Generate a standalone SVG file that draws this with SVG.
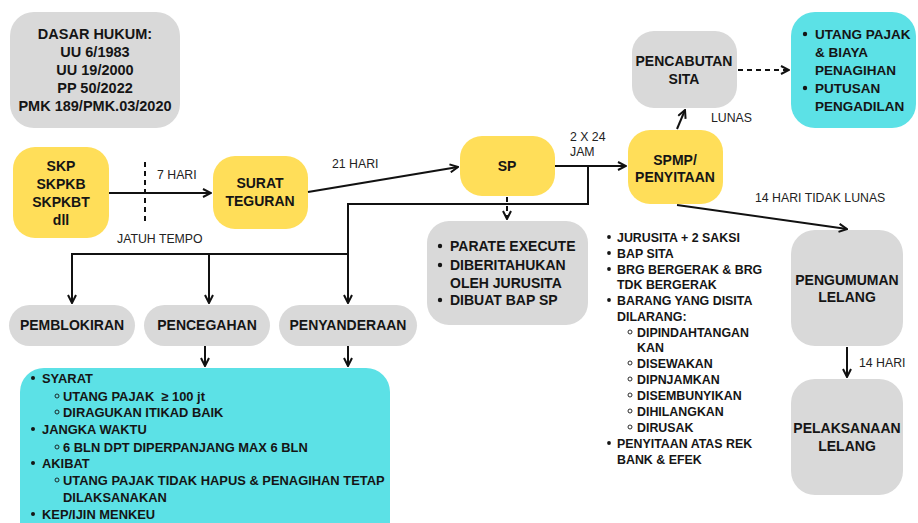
<svg xmlns="http://www.w3.org/2000/svg" width="918" height="523" viewBox="0 0 918 523">
<defs>
<style>
.g{fill:#d9d9d9}
.y{fill:#ffde59}
.c{fill:#5ce1e6}
.t{font-family:"Liberation Sans",Arial,sans-serif;font-weight:bold;fill:#151515}
.n{font-size:14px;text-anchor:middle}
.l{font-family:"Liberation Sans",Arial,sans-serif;font-size:12.3px;fill:#222}
.e{fill:none;stroke:#111;stroke-width:2}
.d{stroke-dasharray:5 4}
.b{fill:#151515}
.s{fill:none;stroke:#151515;stroke-width:0.9}
</style>
<marker id="a" viewBox="0 0 10 10" refX="9" refY="5" markerWidth="10" markerHeight="10" markerUnits="userSpaceOnUse" orient="auto">
<path d="M1,1 L9,5 L1,9" fill="none" stroke="#111" stroke-width="2"/>
</marker>
</defs>
<rect width="918" height="523" fill="#ffffff"/>

<g id="dasar-hukum">
<rect class="g" x="10" y="12" width="170" height="116" rx="24"/>
<text class="t" x="95" font-size="14.5" text-anchor="middle"><tspan x="95" y="39">DASAR HUKUM:</tspan><tspan x="95" y="57">UU 6/1983</tspan><tspan x="95" y="75">UU 19/2000</tspan><tspan x="95" y="93">PP 50/2022</tspan><tspan x="95" y="111">PMK 189/PMK.03/2020</tspan></text>
</g>

<g id="skp">
<rect class="y" x="13" y="147" width="96" height="91" rx="22"/>
<text class="t n"><tspan x="61" y="171">SKP</tspan><tspan x="61" y="189">SKPKB</tspan><tspan x="61" y="207">SKPKBT</tspan><tspan x="61" y="225">dll</tspan></text>
</g>

<g id="surat-teguran">
<rect class="y" x="213" y="156" width="95" height="73" rx="22"/>
<text class="t n"><tspan x="260" y="188">SURAT</tspan><tspan x="260" y="206">TEGURAN</tspan></text>
</g>

<g id="sp">
<rect class="y" x="460" y="136" width="95" height="60" rx="22"/>
<text class="t n" x="507" y="171">SP</text>
</g>

<g id="sp-info">
<rect class="g" x="427" y="221" width="161" height="104" rx="22"/>
<circle class="b" cx="440" cy="246" r="2.2"/>
<circle class="b" cx="440" cy="265" r="2.2"/>
<circle class="b" cx="440" cy="300" r="2.2"/>
<text class="t" font-size="14"><tspan x="450" y="251">PARATE EXECUTE</tspan><tspan x="450" y="270">DIBERITAHUKAN</tspan><tspan x="450" y="288">OLEH JURUSITA</tspan><tspan x="450" y="305">DIBUAT BAP SP</tspan></text>
</g>

<g id="spmp">
<rect class="y" x="628" y="130" width="95" height="74" rx="22"/>
<text class="t n"><tspan x="675" y="165">SPMP/</tspan><tspan x="675" y="182">PENYITAAN</tspan></text>
</g>

<g id="pencabutan-sita">
<rect class="g" x="632" y="31" width="105" height="77" rx="22"/>
<text class="t n"><tspan x="684" y="66">PENCABUTAN</tspan><tspan x="684" y="84">SITA</tspan></text>
</g>

<g id="pencabutan-info">
<rect class="c" x="791" y="12" width="125" height="116" rx="24"/>
<circle class="b" cx="805" cy="34" r="2.2"/>
<circle class="b" cx="805" cy="88" r="2.2"/>
<text class="t" font-size="13.5"><tspan x="815" y="39">UTANG PAJAK</tspan><tspan x="815" y="57">&amp; BIAYA</tspan><tspan x="815" y="75">PENAGIHAN</tspan><tspan x="815" y="93">PUTUSAN</tspan><tspan x="815" y="111">PENGADILAN</tspan></text>
</g>

<g id="pengumuman-lelang">
<rect class="g" x="791" y="230" width="112" height="116" rx="24"/>
<text class="t n"><tspan x="847" y="285">PENGUMUMAN</tspan><tspan x="847" y="302">LELANG</tspan></text>
</g>

<g id="pelaksanaan-lelang">
<rect class="g" x="791" y="379" width="112" height="116" rx="24"/>
<text class="t n"><tspan x="847" y="433">PELAKSANAAN</tspan><tspan x="847" y="451">LELANG</tspan></text>
</g>

<g id="spmp-info">
<circle class="b" cx="609" cy="237" r="1.9"/>
<circle class="b" cx="609" cy="253" r="1.9"/>
<circle class="b" cx="609" cy="269" r="1.9"/>
<circle class="b" cx="609" cy="300" r="1.9"/>
<circle class="b" cx="609" cy="443" r="1.9"/>
<circle class="s" cx="630" cy="332" r="2"/>
<circle class="s" cx="630" cy="363" r="2"/>
<circle class="s" cx="630" cy="379" r="2"/>
<circle class="s" cx="630" cy="395" r="2"/>
<circle class="s" cx="630" cy="411" r="2"/>
<circle class="s" cx="630" cy="427" r="2"/>
<text class="t" font-size="12.4"><tspan x="617" y="241.5">JURUSITA + 2 SAKSI</tspan><tspan x="617" y="257.5">BAP SITA</tspan><tspan x="617" y="273.5">BRG BERGERAK &amp; BRG</tspan><tspan x="617" y="288.5">TDK BERGERAK</tspan><tspan x="617" y="304.5">BARANG YANG DISITA</tspan><tspan x="617" y="320.5">DILARANG:</tspan><tspan x="637" y="336.5">DIPINDAHTANGAN</tspan><tspan x="637" y="351.5">KAN</tspan><tspan x="637" y="367.5">DISEWAKAN</tspan><tspan x="637" y="383.5">DIPNJAMKAN</tspan><tspan x="637" y="399.5">DISEMBUNYIKAN</tspan><tspan x="637" y="415.5">DIHILANGKAN</tspan><tspan x="637" y="431.5">DIRUSAK</tspan><tspan x="617" y="447.5">PENYITAAN ATAS REK</tspan><tspan x="617" y="463.5">BANK &amp; EFEK</tspan></text>
</g>

<g id="pemblokiran">
<rect class="g" x="9" y="305" width="126" height="41" rx="20.5"/>
<text class="t n" x="72" y="330">PEMBLOKIRAN</text>
</g>

<g id="pencegahan">
<rect class="g" x="144" y="305" width="126" height="41" rx="20.5"/>
<text class="t n" x="207" y="330">PENCEGAHAN</text>
</g>

<g id="penyanderaan">
<rect class="g" x="279" y="305" width="138" height="41" rx="20.5"/>
<text class="t n" x="348" y="330">PENYANDERAAN</text>
</g>

<g id="syarat-info">
<rect class="c" x="20" y="368" width="370" height="180" rx="24"/>
<circle class="b" cx="33" cy="378" r="2"/>
<circle class="b" cx="33" cy="429" r="2"/>
<circle class="b" cx="33" cy="463" r="2"/>
<circle class="b" cx="33" cy="514" r="2"/>
<circle class="s" cx="57" cy="396" r="2"/>
<circle class="s" cx="57" cy="412" r="2"/>
<circle class="s" cx="57" cy="447" r="2"/>
<circle class="s" cx="57" cy="480" r="2"/>
<text class="t" font-size="12.9"><tspan x="42" y="382.5">SYARAT</tspan><tspan x="63" y="400.5">UTANG PAJAK&#160; ≥ 100 jt</tspan><tspan x="63" y="416.5">DIRAGUKAN ITIKAD BAIK</tspan><tspan x="42" y="433.5">JANGKA WAKTU</tspan><tspan x="63" y="451.5">6 BLN DPT DIPERPANJANG MAX 6 BLN</tspan><tspan x="42" y="467.5">AKIBAT</tspan><tspan x="63" y="484.5">UTANG PAJAK TIDAK HAPUS &amp; PENAGIHAN TETAP</tspan><tspan x="63" y="501.5">DILAKSANAKAN</tspan><tspan x="42" y="518.5">KEP/IJIN MENKEU</tspan></text>
</g>

<g id="connectors">
<path class="e" d="M109,193 H211" marker-end="url(#a)"/>
<path class="e d" d="M145,162 V221"/>
<path class="e" d="M308,192 L458,167" marker-end="url(#a)"/>
<path class="e" d="M555,166 H626" marker-end="url(#a)"/>
<path class="e" d="M588,166 V204 H348 V303" marker-end="url(#a)"/>
<path class="e" d="M348,254 H72 V303" marker-end="url(#a)"/>
<path class="e" d="M209,254 V303" marker-end="url(#a)"/>
<path class="e d" d="M507,197 V219" marker-end="url(#a)"/>
<path class="e" d="M205,346 V366" marker-end="url(#a)"/>
<path class="e" d="M348,346 V366" marker-end="url(#a)"/>
<path class="e" d="M677,129 L685,110" marker-end="url(#a)"/>
<path class="e d" d="M738,70 H789" marker-end="url(#a)"/>
<path class="e" d="M677,205 L847,229" marker-end="url(#a)"/>
<path class="e" d="M847,347 V377" marker-end="url(#a)"/>
<text class="l" x="157" y="179">7 HARI</text>
<text class="l" x="117" y="243">JATUH TEMPO</text>
<text class="l" x="332" y="168">21 HARI</text>
<text class="l"><tspan x="570" y="141">2 X 24</tspan><tspan x="570" y="156">JAM</tspan></text>
<text class="l" x="711" y="122">LUNAS</text>
<text class="l" x="755" y="202">14 HARI TIDAK LUNAS</text>
<text class="l" x="859" y="367">14 HARI</text>
</g>
</svg>
